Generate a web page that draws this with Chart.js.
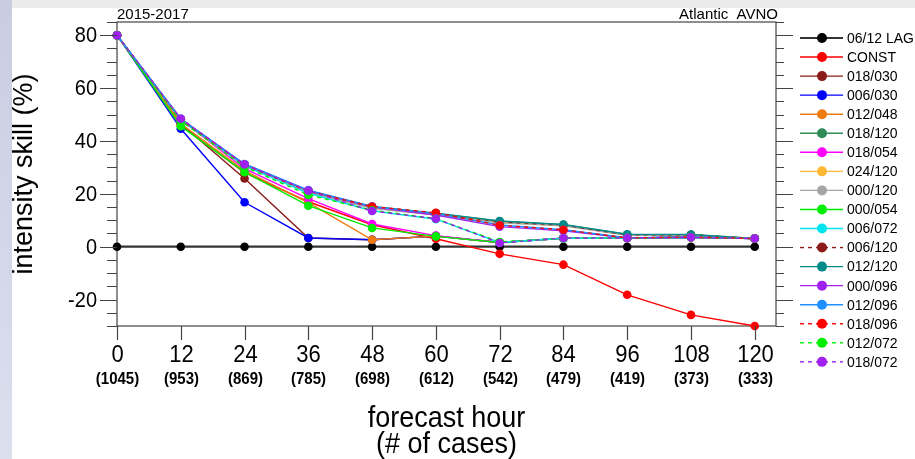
<!DOCTYPE html>
<html>
<head>
<meta charset="utf-8">
<script src="https://cdn.jsdelivr.net/npm/chart.js@4"></script>
<style>
  html, body { margin: 0; padding: 0; }
  body { width: 915px; height: 459px; background: #ebebeb; position: relative; overflow: hidden; }
  #leftStrip { position: absolute; left: 0; top: 0; width: 12px; height: 459px;
    background: linear-gradient(to bottom, #c9cde2, #dcdfee); }
  #panel { position: absolute; left: 12px; top: 8px; width: 903px; height: 451px; background: #fff; }
  #chart { position: absolute; left: 0; top: 0; }
</style>
</head>
<body>
<div id="leftStrip"></div>
<div id="panel"></div>
<canvas id="chart" width="915" height="459"></canvas>
<script>
// forecast hours and number of cases
const hours = [0, 12, 24, 36, 48, 60, 72, 84, 96, 108, 120];
const cases = [1045, 953, 869, 785, 698, 612, 542, 479, 419, 373, 333];
const yTickLabels = [80, 60, 40, 20, 0, -20];

// intensity skill (%) per model
const lag06_12 = [0, 0, 0, 0, 0, 0, 0, 0, 0, 0, 0];
const constSkill = [80, 46, 28, 17, 8.3, 3, -2.7, -6.8, -18.2, -25.8, -30];
const s018_030 = [80, 46.5, 25.8, 3.3, 2.6, 4, 1.6, 3.2, 3.3, 3.6, 3.1];
const s006_030 = [80, 44.6, 16.8, 3.3, 2.6, 4, 1.6, 3.2, 3.3, 3.6, 3.1];
const s012_048 = [80, 46.5, 28.8, 16.7, 2.6, 4, 1.6, 3.2, 3.3, 3.6, 3.1];
const s018_120 = [80, 48, 31, 21, 15, 12.6, 9.6, 8.3, 4.6, 4.5, 3.1];
const s018_054 = [80, 48, 29.5, 18.2, 8.6, 4.2, 1.6, 3.2, 3.3, 3.6, 3.1];
const s024_120 = [80, 48, 30.5, 20.5, 14.6, 12.2, 9.2, 8, 4.4, 4.4, 3.1];
const s000_120 = [80, 48, 30.8, 20.6, 14.5, 12, 9, 7.9, 4.3, 4.3, 3.1];
const s000_054 = [80, 45.6, 28.2, 15.5, 7.1, 3.9, 1.6, 3.2, 3.3, 3.6, 3.1];
const s006_072 = [80, 48, 30.6, 20.2, 13.6, 10.4, 1.6, 3.2, 3.3, 3.6, 3.1];
const s006_120 = [80, 48, 31, 21, 15, 12.6, 9.4, 8.2, 4.5, 4.5, 3.1];
const s012_120 = [80, 48.2, 31.2, 21.2, 15.2, 12.7, 9.7, 8.4, 4.7, 4.6, 3.1];
const s000_096 = [80, 48.4, 31.1, 21.2, 15, 12, 7.6, 6, 3.3, 3.6, 3.1];
const s012_096 = [80, 48.4, 31.3, 21.4, 15.2, 12.5, 8.2, 6.4, 3.4, 3.6, 3.1];
const s018_096 = [80, 48.2, 31, 21, 15.2, 12.8, 8.1, 6.4, 3.3, 3.6, 3.1];
const s012_072 = [80, 47.6, 30.2, 19.6, 13.8, 10.6, 1.8, 3.2, 3.3, 3.6, 3.1];
const s018_072 = [80, 48.4, 31.1, 21.2, 13.5, 10.6, 1.4, 3.3, 3.3, 3.6, 3.1];

const seriesNames = ["06/12 LAG", "CONST", "018/030", "006/030", "012/048", "018/120", "018/054",
  "024/120", "000/120", "000/054", "006/072", "006/120", "012/120", "000/096", "012/096",
  "018/096", "012/072", "018/072"];
const seriesValues = [lag06_12, constSkill, s018_030, s006_030, s012_048, s018_120, s018_054,
  s024_120, s000_120, s000_054, s006_072, s006_120, s012_120, s000_096, s012_096,
  s018_096, s012_072, s018_072];
const seriesColors = ["#000000", "#ff0000", "#8b1a1a", "#0000ff", "#ee7b10", "#2e8b57", "#ff00ff",
  "#ffb833", "#a6a6a6", "#00ee00", "#00e5ee", "#8b1a1a", "#008b8b", "#a020f0", "#1e90ff",
  "#ff0000", "#00ee00", "#a020f0"];
const seriesDashed = [false, false, false, false, false, false, false, false, false, false, false,
  true, false, false, false, true, true, true];

const FONT = '"Liberation Sans", Arial, sans-serif';
const N = seriesNames.length;

const datasets = seriesNames.map((name, i) => ({
  label: name,
  data: hours.map((h, j) => ({ x: h, y: seriesValues[i][j] })),
  borderColor: i === 0 ? "#333333" : seriesColors[i],
  backgroundColor: seriesColors[i],
  borderWidth: i === 0 ? 2.2 : 1.4,
  borderDash: seriesDashed[i] ? [4, 4] : [],
  pointRadius: 4.3,
  pointBorderWidth: 0,
  pointHoverRadius: 4.3,
  tension: 0,
  clip: false,
  order: N - i // later series on top
}));

// text a little taller than wide, like the original plot's font
function tallText(ctx, text, x, y, sy) {
  ctx.save();
  ctx.translate(x, y);
  ctx.scale(1, sy);
  ctx.fillText(text, 0, 0);
  ctx.restore();
}

// frame, ticks, labels and legend drawn around the plot area
const decorations = {
  id: "decorations",
  beforeDatasetsDraw(chart) {
    const { ctx, chartArea: a } = chart;
    ctx.save();
    ctx.strokeStyle = "#444";
    ctx.lineWidth = 1.2;
    ctx.strokeRect(a.left, a.top, a.right - a.left, a.bottom - a.top);
    ctx.restore();
  },
  afterDraw(chart) {
    const { ctx, chartArea: a, scales } = chart;
    const xs = scales.x, ys = scales.y;
    ctx.save();
    ctx.strokeStyle = "#444";
    ctx.lineWidth = 1.2;
    ctx.fillStyle = "#000";

    // y ticks, every 5, majors every 20
    for (let v = -30; v <= 85; v += 5) {
      const y = Math.round(ys.getPixelForValue(v)) + 0.5;
      const major = v % 20 === 0;
      ctx.beginPath();
      ctx.moveTo(a.left - (major ? 17 : 10), y);
      ctx.lineTo(a.left, y);
      ctx.moveTo(a.right, y);
      ctx.lineTo(a.right + (major ? 17 : 8), y);
      ctx.stroke();
    }
    ctx.font = "20px " + FONT;
    ctx.textAlign = "right";
    ctx.textBaseline = "middle";
    yTickLabels.forEach(v => tallText(ctx, String(v), a.left - 20, ys.getPixelForValue(v) + 1, 1.12));

    // x ticks and two-line labels
    ctx.textAlign = "center";
    hours.forEach((h, i) => {
      const x = Math.round(xs.getPixelForValue(h)) + 0.5;
      ctx.beginPath();
      ctx.moveTo(x, a.bottom);
      ctx.lineTo(x, a.bottom + 14);
      ctx.stroke();
      ctx.font = "22px " + FONT;
      tallText(ctx, String(h), x, a.bottom + 29, 1.12);
      ctx.font = "bold 15px " + FONT;
      tallText(ctx, "(" + cases[i] + ")", x, a.bottom + 54, 1.08);
    });

    // axis titles
    const cx = (a.left + a.right) / 2;
    ctx.font = "27px " + FONT;
    ctx.textBaseline = "alphabetic";
    tallText(ctx, "forecast hour", cx, 427, 1.1);
    tallText(ctx, "(# of cases)", cx, 453, 1.1);
    ctx.save();
    ctx.translate(32, (a.top + a.bottom) / 2);
    ctx.rotate(-Math.PI / 2);
    ctx.fillText("intensity skill (%)", 0, 0);
    ctx.restore();

    // top labels
    ctx.font = "15px " + FONT;
    ctx.textAlign = "left";
    ctx.fillText("2015-2017", a.left, 19);
    ctx.textAlign = "right";
    ctx.fillText("Atlantic  AVNO", a.right + 2, 19);

    // legend
    ctx.font = "14px " + FONT;
    ctx.textAlign = "left";
    ctx.textBaseline = "middle";
    datasets.forEach((d, i) => {
      const y = 38 + i * 19.05;
      ctx.strokeStyle = d.borderColor;
      ctx.fillStyle = d.backgroundColor;
      ctx.lineWidth = i === 0 ? 2.2 : 1.4;
      ctx.setLineDash(seriesDashed[i] ? [4, 4] : []);
      ctx.beginPath();
      ctx.moveTo(800, y);
      ctx.lineTo(843, y);
      ctx.stroke();
      ctx.setLineDash([]);
      ctx.beginPath();
      ctx.arc(822, y, 5, 0, Math.PI * 2);
      ctx.fill();
      ctx.fillStyle = "#000";
      ctx.fillText(d.label, 847, y + 1);
    });
    ctx.restore();
  }
};

new Chart(document.getElementById("chart"), {
  type: "line",
  data: { datasets: datasets },
  options: {
    responsive: false,
    animation: false,
    events: [],
    layout: { padding: { left: 117, right: 139, top: 22, bottom: 133 } },
    scales: {
      x: { type: "linear", min: 0, max: 124, display: false },
      y: { min: -30, max: 85, display: false }
    },
    plugins: {
      legend: { display: false },
      tooltip: { enabled: false }
    }
  },
  plugins: [decorations]
});
</script>
</body>
</html>
